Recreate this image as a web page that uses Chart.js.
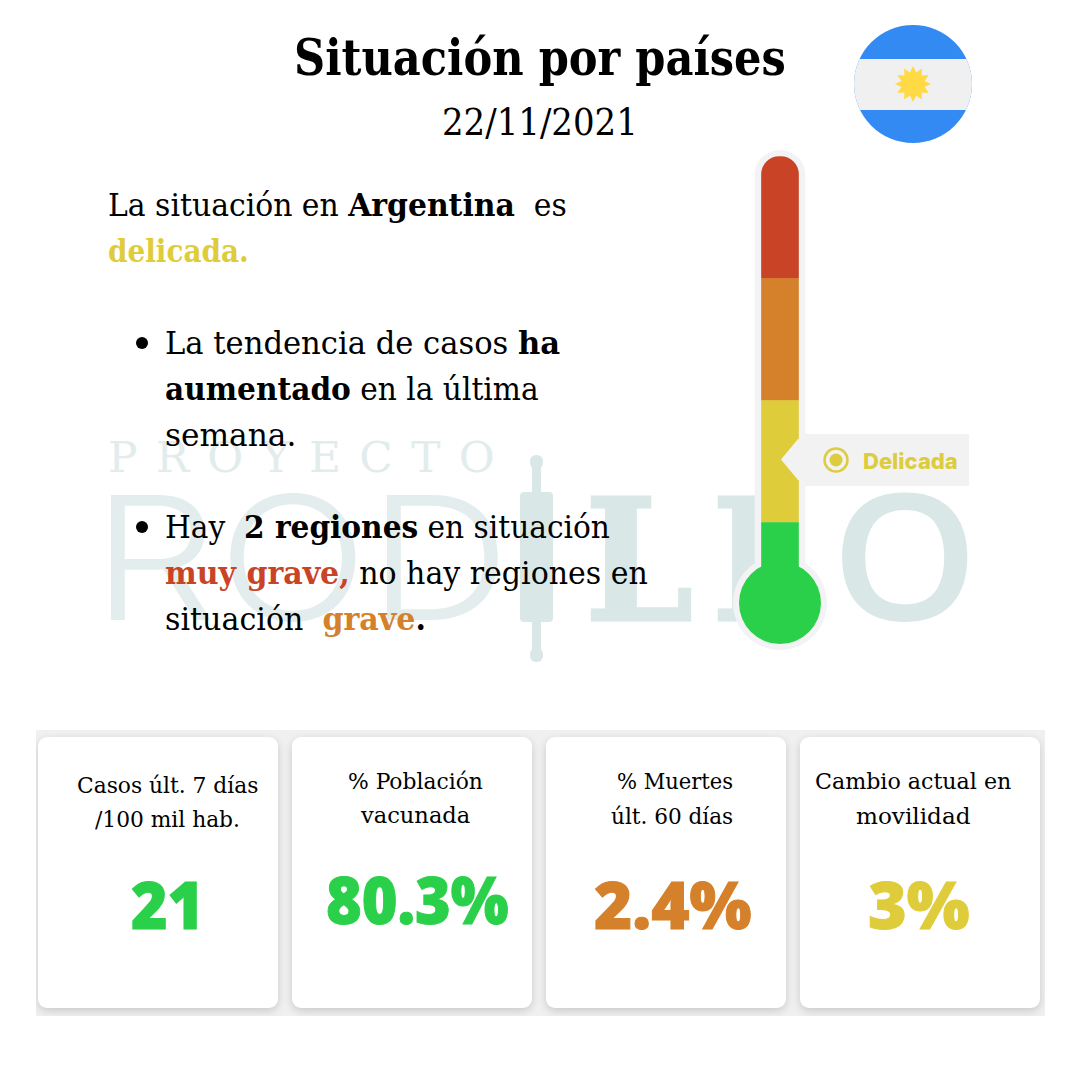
<!DOCTYPE html>
<html lang="es">
<head>
<meta charset="utf-8">
<title>Situación por países</title>
<script src="https://cdn.jsdelivr.net/npm/chart.js@4"></script>
<style>
  html, body { margin: 0; padding: 0; background: #fff; }
  #page { position: relative; width: 1080px; height: 1080px; overflow: hidden; background: #fff; }
  #termo { position: absolute; left: 720px; top: 140px; width: 120px; height: 520px; }
  .t { position: absolute; left: 0; top: 0; white-space: pre; transform-origin: 0 50%; color: #000; }
  .strut { display: inline-block; width: 0; height: 0; }
  #banda { position: absolute; left: 36px; top: 730px; width: 1009px; height: 286px; overflow: hidden; background: #f0f0f0; }
  .card { position: absolute; top: 7px; width: 240px; height: 271px; background: #fff; border-radius: 9px; box-shadow: 0 3px 9px rgba(0,0,0,.16); }
  svg { position: absolute; left: 0; top: 0; }
</style>
</head>
<body>
<div id="page">
  <svg id="marca" width="1080" height="1080">
    <g fill="#d9e7e7">
      <rect x="530" y="455" width="13" height="14" rx="6"/>
      <rect x="532" y="462" width="9" height="34"/>
      <rect x="520" y="492" width="33" height="130" rx="4"/>
      <rect x="532" y="618" width="9" height="34"/>
      <rect x="530" y="648" width="13" height="14" rx="6"/>
    </g>
  </svg>
  <div id="banda"></div>
  <div id="textos"></div>
  <div id="termo"><canvas id="chart_termo" width="120" height="520"></canvas></div>
  <svg id="adornos" width="1080" height="1080">
    <clipPath id="disco"><circle cx="913" cy="84" r="59"/></clipPath>
    <g clip-path="url(#disco)">
      <rect x="850" y="20" width="130" height="130" fill="#338af3"/>
      <rect x="850" y="59" width="130" height="51" fill="#f0f0f0"/>
    </g>
    <polygon id="sol" fill="#ffda44"/>
    <rect x="805" y="434" width="164" height="52" fill="#f2f2f2"/>
    <polygon points="781,459.5 798,439 806,439 806,480 798,480" fill="#f2f2f2"/>
    <circle cx="836" cy="460" r="11.5" fill="none" stroke="#ddcc3f" stroke-width="2.5"/>
    <circle cx="836" cy="460" r="6.5" fill="#ddcc3f"/>
  </svg>
</div>
<script>
// datos del termometro
const categorias = ['Situación'];
const tramoLeve = [0.66];
const tramoDelicada = [1];
const tramoGrave = [1];
const tramoMuyGrave = [1];
const bulbo = [0];
const funda = [3.71];

// textos de las tarjetas
const cardTitulos = [
    ['Casos últ. 7 días', '/100 mil hab.'],
    ['% Población', 'vacunada'],
    ['% Muertes', 'últ. 60 días'],
    ['Cambio actual en', 'movilidad']
];
const cardValores = ['21', '80.3%', '2.4%', '3%'];

const VERDE = '#2ad04a', AMARILLO = '#dfcc3a', NARANJA = '#d5802a', ROJO = '#c94427';
const SERIF = '"DejaVu Serif Condensed", "DejaVu Serif", serif';

const page = document.getElementById('textos');

// coloca una linea de texto por su linea base y la ajusta al ancho pedido
function put(segs, x, base, w, css) {
    const d = document.createElement('div');
    d.className = 't';
    Object.assign(d.style, css);
    for (const [txt, peso, color] of segs) {
        const s = document.createElement('span');
        s.textContent = txt;
        if (peso) s.style.fontWeight = peso;
        if (color) s.style.color = color;
        d.appendChild(s);
    }
    const strut = document.createElement('span');
    strut.className = 'strut';
    d.appendChild(strut);
    page.appendChild(d);
    const y = strut.getBoundingClientRect().bottom - page.getBoundingClientRect().top;
    d.style.left = x + 'px';
    d.style.top = (base - y) + 'px';
    d.style.transform = 'scaleX(' + (w / d.offsetWidth) + ')';
}

// marca de agua
put([['PROYECTO']], 108, 472, 405, { fontFamily: '"DejaVu Serif", serif', fontSize: '43px', letterSpacing: '18px', color: '#e3ecec' });
put([['ROD']], 92, 620, 418, { fontFamily: 'Inter, sans-serif', fontWeight: 300, fontSize: '172px', color: '#e3eded' });
const marcaBold = { color: '#d9e7e7', fontFamily: '"DejaVu Serif", serif', fontWeight: 700, fontSize: '168px', webkitTextStroke: '3px #d9e7e7' };
put([['L']], 585, 620, 108, marcaBold);
put([['L']], 712, 620, 108, marcaBold);
put([['O']], 831, 620, 148, { color: '#d9e7e7', fontFamily: '"Open Sans", sans-serif', fontWeight: 600, fontSize: '176px' });

// cabecera
put([['Situación por países']], 294, 75, 492, { fontFamily: SERIF, fontWeight: 700, fontSize: '50px' });
put([['22/11/2021']], 442, 135, 196, { fontFamily: SERIF, fontSize: '37px' });

// parrafos
const cuerpo = { fontFamily: SERIF, fontSize: '31px' };
put([['La situación en '], ['Argentina', 700], ['  es']], 108, 216, 459, cuerpo);
put([['delicada.', 700, AMARILLO]], 108, 262, 141, cuerpo);
put([['La tendencia de casos '], ['ha', 700]], 165, 354, 395, cuerpo);
put([['aumentado', 700], [' en la última']], 165, 400, 374, cuerpo);
put([['semana.']], 165, 446, 131, cuerpo);
put([['Hay  '], ['2 regiones', 700], [' en situación']], 165, 538, 445, cuerpo);
put([['muy grave,', 700, ROJO], [' no hay regiones en']], 165, 584, 483, cuerpo);
put([['situación  '], ['grave', 700, NARANJA], ['.', 700]], 165, 630, 261, cuerpo);

for (const by of [343, 527]) {
    const b = document.createElement('div');
    b.style.cssText = 'position:absolute;left:136px;width:12px;height:12px;border-radius:50%;background:#000;top:' + (by - 6) + 'px';
    page.appendChild(b);
}

// tarjetas
const banda = document.getElementById('banda');
const cardX = [2, 256, 510, 764];
const tituloPos = [
    [[77, 793, 181], [95, 827, 145]],
    [[348, 789, 135], [361, 823, 109]],
    [[617, 789, 116], [611, 824, 122]],
    [[815, 789, 196], [856, 824, 114]]
];
const valorPos = [[131, 929, 73], [326, 924, 183], [594, 929, 158], [868, 929, 102]];
const valorColor = [VERDE, VERDE, NARANJA, AMARILLO];

cardX.forEach((x) => {
    const c = document.createElement('div');
    c.className = 'card';
    c.style.left = x + 'px';
    banda.appendChild(c);
});
cardTitulos.forEach((lineas, i) => {
    lineas.forEach((txt, j) => {
        const [x, base, w] = tituloPos[i][j];
        put([[txt]], x, base, w, { fontFamily: SERIF, fontSize: '23px' });
    });
    const [x, base, w] = valorPos[i];
    put([[cardValores[i]]], x, base, w, { fontFamily: '"Open Sans", sans-serif', fontWeight: 800, fontSize: '65px', color: valorColor[i], webkitTextStroke: '1px ' + valorColor[i] });
});

put([['Delicada']], 863, 469, 95, { fontFamily: 'Inter, sans-serif', fontWeight: 800, fontSize: '22px', color: '#ddcc3f' });
// la etiqueta va sobre el termometro
page.lastChild.style.zIndex = 5;

// sol de la bandera
const puntas = [];
for (let i = 0; i < 24; i++) {
    const r = i % 2 ? 12 : 18;
    const a = i * Math.PI / 12;
    puntas.push((913 + r * Math.cos(a)).toFixed(1) + ',' + (84 + r * Math.sin(a)).toFixed(1));
}
document.getElementById('sol').setAttribute('points', puntas.join(' '));

// termometro
const pxPorTramo = 122;
const tramo = { type: 'bar', stack: 'termo', grouped: false, barThickness: 37, order: 5 };
const ctx = document.getElementById('chart_termo').getContext('2d');
new Chart(ctx, {
    data: {
        labels: categorias,
        datasets: [
            { type: 'bar', label: 'funda', stack: 'funda', grouped: false, data: funda, backgroundColor: '#f3f3f5', barThickness: 50, borderRadius: { topLeft: 25, topRight: 25 }, borderSkipped: false, order: 10 },
            { type: 'line', label: 'bulbo funda', data: bulbo, pointRadius: 47, pointBackgroundColor: '#f3f3f5', pointBorderWidth: 0, showLine: false, clip: false, order: 9 },
            { ...tramo, label: 'Leve', data: tramoLeve, backgroundColor: VERDE },
            { ...tramo, label: 'Delicada', data: tramoDelicada, backgroundColor: AMARILLO },
            { ...tramo, label: 'Grave', data: tramoGrave, backgroundColor: NARANJA },
            { ...tramo, label: 'Muy grave', data: tramoMuyGrave, backgroundColor: ROJO, borderRadius: { topLeft: 18, topRight: 18 }, borderSkipped: false },
            { type: 'line', label: 'bulbo', data: bulbo, pointRadius: 41, pointBackgroundColor: VERDE, pointBorderWidth: 0, showLine: false, clip: false, order: 1 }
        ]
    },
    options: {
        responsive: false,
        animation: false,
        events: [],
        layout: { padding: 0, autoPadding: false },
        plugins: { legend: { display: false }, tooltip: { enabled: false } },
        scales: {
            x: { display: false, offset: true, stacked: true },
            y: { display: false, stacked: true, min: (603 - 660) / pxPorTramo, max: (603 - 140) / pxPorTramo }
        }
    }
});
</script>
</body>
</html>
